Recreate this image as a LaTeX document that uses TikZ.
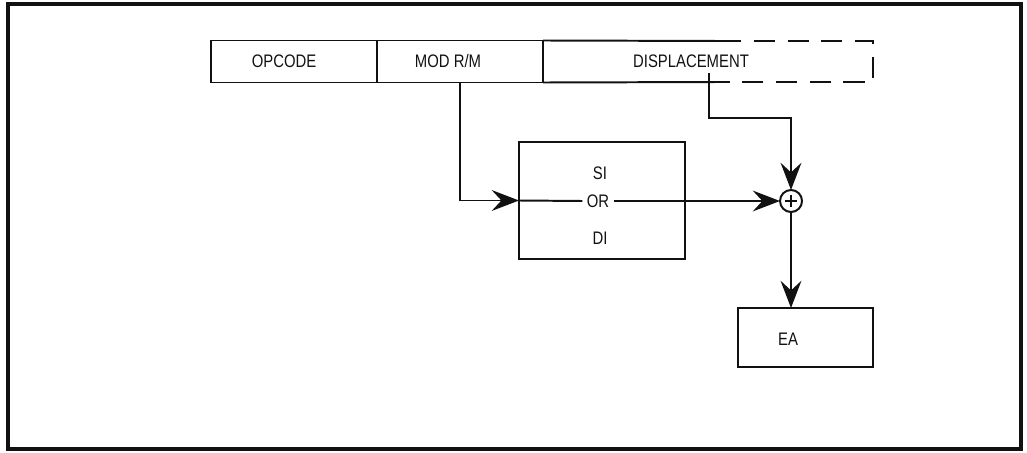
\documentclass[tikz,border=0pt]{standalone}
\usepackage{fontspec}
\setmainfont{Liberation Sans}[FakeStretch=0.82]
\usepackage{tikz}
\usetikzlibrary{arrows.meta,positioning,calc}
\definecolor{ink}{HTML}{111111}
\tikzset{
    every picture/.style={line join=miter},
    fieldbox/.style={draw=ink,line width=1.4pt,minimum width=4.15cm,
      minimum height=1.05cm,inner sep=0pt,outer sep=0pt,align=center},
    regbox/.style={draw=ink,line width=1.4pt,minimum width=4.15cm,
      minimum height=2.925cm,inner sep=0pt,outer sep=0pt},
    resultbox/.style={draw=ink,line width=1.4pt,minimum width=3.375cm,
      minimum height=1.475cm,inner sep=0pt,outer sep=0pt},
    adder/.style={draw=ink,circle,line width=1.4pt,minimum size=0.55cm,
      inner sep=0pt,outer sep=0pt},
    label/.style={inner sep=1.5pt,text=ink},
    flowline/.style={draw=ink,line width=1.4pt},
    flowarrow/.style={flowline,-{Stealth[length=6.8mm,width=5.2mm,inset=2.4mm]}},
    frame/.style={draw=ink,line width=2.8pt}
}
\begin{document}
\begin{tikzpicture}[x=0.025cm,y=-0.025cm,
    font=\fontsize{12.9pt}{15pt}\selectfont]
  \useasboundingbox (0,0) rectangle (1027,453);
  \draw[frame] (8,4) rectangle (1021,449);

  % instruction fields
  \node[fieldbox] (opcode) at (294,61.5) {};
  \node[fieldbox,right=0pt of opcode] (modrm) {};
  \node[label] at (284,61.5) {OPCODE};
  \node[label] at (448,61.5) {MOD R/M};
  \draw[flowline] (modrm.north east) -- (720,41) (modrm.south east) -- (720,82);
  \draw[flowline,dashed,dash pattern=on 15pt off 9pt]
    (720,41) -- (873,41) -- (873,82) -- (720,82);
  \node[label] (dlabel) at (691,61.5) {DISPLACEMENT};
  \coordinate (dtap) at (709,73);

  % base register
  \node[regbox] (sibox) at (602,200.5) {};
  \node[label] (si) at (600,173) {SI};
  \node[label,inner sep=3pt] (ortext) at (598,201) {OR};
  \node[label] (di) at (600,238) {DI};

  \node[adder] (sum) at (791,201) {};
  \draw[flowline] ($(sum.center)+(-6,0)$) -- ($(sum.center)+(6,0)$)
    ($(sum.center)+(0,-6)$) -- ($(sum.center)+(0,6)$);

  \node[resultbox] (ea) at (805.5,337.5) {};
  \node[label] (ealabel) at (788,339) {EA};

  \draw[flowarrow] (modrm.south) |- (sibox.west);
  \draw[flowline] (sibox.west) -- (ortext.west);
  \draw[flowarrow] (ortext.east) -- (sum.west);
  \draw[flowarrow] (dtap) -- ++(0,45) -| (sum.north);
  \draw[flowarrow] (sum.south) -- (sum.south |- ea.north);
\end{tikzpicture}
\end{document}
